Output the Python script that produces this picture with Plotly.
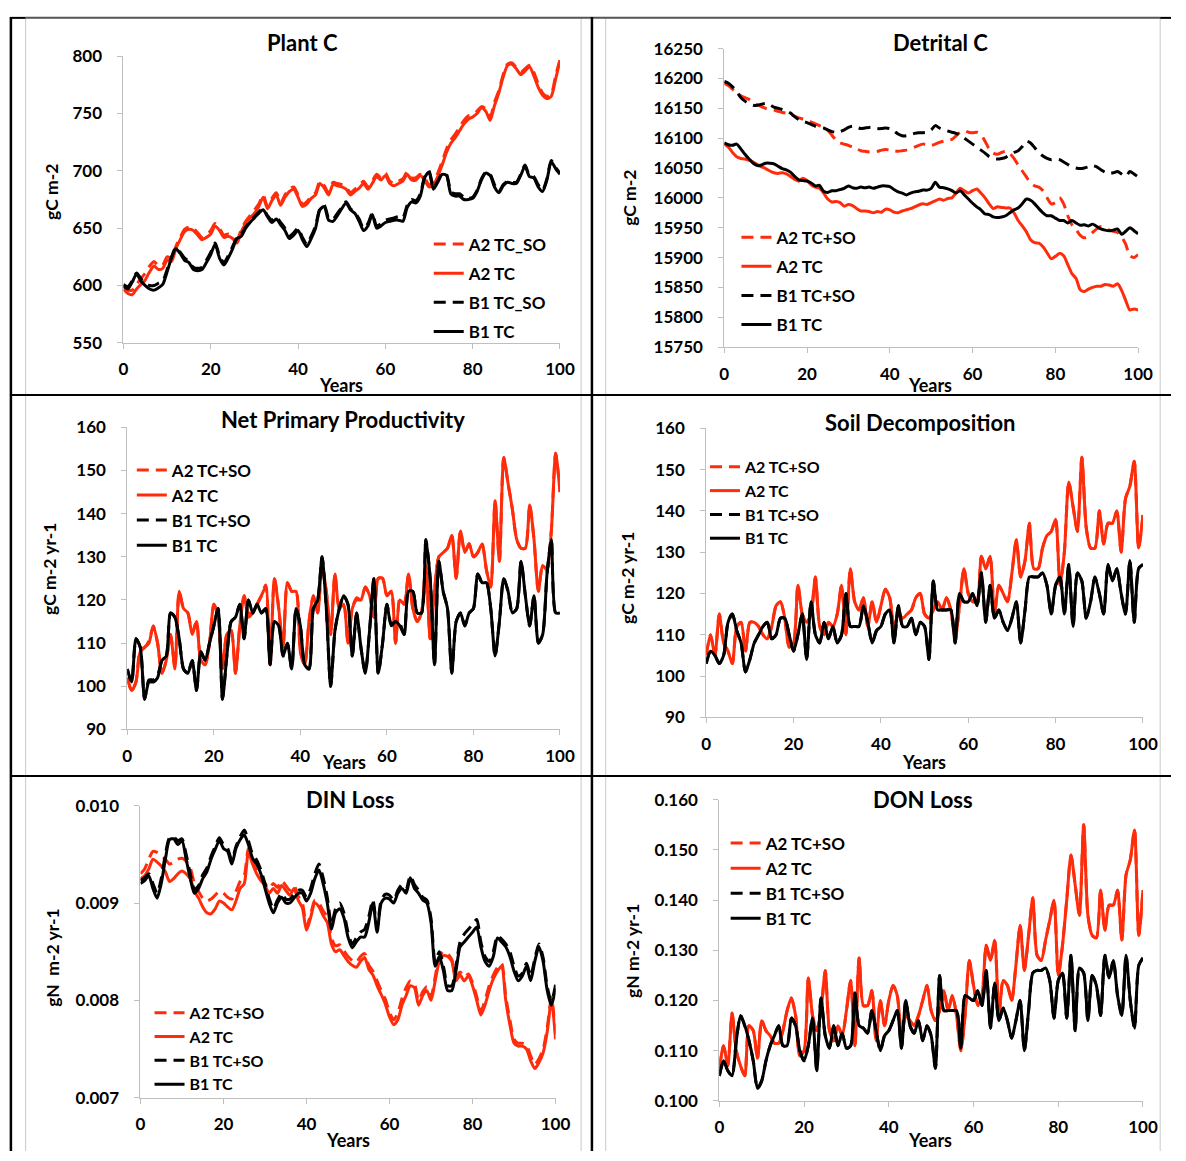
import plotly.graph_objects as go

W, H = 1186, 1161
years = list(range(101))

# ---------------- Plant C ----------------
plant_a2_tcso = [599,596,596,601,606,611,617,621,617,618,
                 625,624,634,642,649,651,650,646,642,644,
                 648,654,650,644,645,643,640,649,656,661,
                 666,671,679,669,676,681,672,679,684,686,
                 679,671,673,678,681,691,687,681,690,689,
                 688,686,681,684,687,691,686,691,697,694,
                 698,691,689,691,693,699,694,694,697,694,
                 688,690,698,708,719,727,732,738,744,748,
                 749,752,756,754,747,760,770,784,793,794,
                 790,786,789,792,786,776,768,765,767,783,
                 797]
plant_a2_tc = [597,593,592,597,601,605,612,617,614,615,
               622,621,632,640,647,649,648,644,640,642,
               645,652,648,642,643,641,637,647,654,659,
               663,669,677,667,674,679,670,677,682,684,
               677,669,671,676,679,689,685,679,688,687,
               686,684,679,682,685,689,684,689,695,692,
               696,689,687,689,691,697,692,692,696,692,
               686,688,695,705,716,724,729,735,741,745,
               747,750,755,752,744,757,768,782,792,793,
               789,784,787,791,783,773,766,763,765,780,
               796]
plant_b1_tcso = [601,599,604,611,606,602,600,600,602,604,
                 614,625,633,629,624,621,616,615,616,622,
                 629,637,626,620,626,634,642,645,651,656,
                 660,664,667,661,657,660,655,650,643,646,
                 650,642,636,643,652,667,670,659,658,663,
                 668,673,667,664,658,650,654,663,652,654,
                 657,658,659,660,659,670,675,674,680,695,
                 700,686,691,698,697,682,680,680,677,676,
                 677,683,693,699,697,688,682,688,691,690,
                 690,697,705,696,695,688,683,693,709,703,
                 698]
plant_b1_tc = [600,597,603,610,604,600,597,596,598,601,
               612,624,632,628,622,620,614,613,614,620,
               627,636,624,618,624,632,641,643,650,655,
               659,663,666,660,655,658,653,648,641,644,
               648,640,634,641,650,666,669,657,656,661,
               667,672,666,663,656,648,652,662,650,652,
               655,656,657,657,656,668,673,672,678,694,
               699,684,690,697,696,680,678,678,675,675,
               676,682,692,698,696,686,681,687,690,689,
               689,696,704,695,694,686,682,692,708,702,
               697]

# ---------------- Detrital C ----------------
det_a2_tcso = [16192,16188,16182,16176,16171,16168,16165,16160,16156,16153,
               16150,16148,16147,16145,16143,16142,16140,16137,16134,16132,
               16130,16127,16124,16121,16118,16113,16105,16097,16092,16090,
               16088,16085,16082,16079,16078,16077,16077,16078,16080,16081,
               16080,16079,16078,16079,16080,16082,16085,16088,16090,16089,
               16088,16090,16093,16095,16096,16098,16104,16110,16112,16110,
               16109,16110,16106,16095,16082,16075,16073,16076,16078,16074,
               16066,16055,16045,16035,16025,16020,16018,16012,16000,15990,
               15992,16000,15990,15970,15955,15947,15937,15933,15936,15942,
               15948,15952,15950,15946,15944,15942,15935,15922,15903,15900,
               15905]
det_a2_tc = [16090,16085,16076,16069,16066,16065,16063,16060,16056,16052,
             16049,16045,16042,16041,16042,16040,16036,16031,16028,16033,
             16029,16022,16018,16016,16008,15998,15993,15994,15992,15986,
             15989,15987,15982,15978,15978,15977,15975,15977,15976,15981,
             15980,15976,15975,15978,15980,15982,15985,15988,15990,15989,
             15992,15995,15998,15996,15999,16000,16008,16016,16012,16008,
             16012,16015,16008,16000,15990,15982,15985,15984,15983,15983,
             15975,15962,15953,15943,15930,15925,15924,15918,15908,15898,
             15902,15907,15903,15888,15873,15865,15846,15843,15847,15850,
             15852,15852,15855,15854,15852,15856,15845,15828,15812,15814,
             15812]
det_b1_tcso = [16195,16192,16186,16178,16168,16162,16158,16155,16155,16157,
               16158,16156,16152,16150,16148,16146,16142,16136,16131,16128,
               16126,16123,16120,16118,16117,16114,16111,16110,16111,16114,
               16118,16120,16118,16116,16117,16118,16118,16116,16116,16117,
               16116,16112,16107,16104,16104,16106,16108,16109,16109,16110,
               16114,16121,16117,16114,16112,16110,16108,16105,16100,16095,
               16090,16085,16080,16075,16069,16066,16065,16066,16068,16072,
               16076,16079,16086,16095,16092,16084,16076,16070,16066,16064,
               16065,16064,16060,16056,16052,16050,16049,16050,16052,16054,
               16052,16047,16043,16041,16042,16044,16040,16036,16044,16040,
               16035]
det_b1_tc = [16092,16089,16088,16090,16082,16073,16065,16058,16054,16055,
             16058,16058,16057,16053,16049,16047,16043,16036,16030,16029,
             16028,16025,16020,16021,16011,16009,16012,16012,16014,16016,
             16020,16017,16016,16018,16017,16018,16016,16018,16020,16020,
             16019,16014,16010,16008,16005,16008,16010,16011,16013,16013,
             16016,16026,16018,16017,16015,16012,16008,16012,16005,15998,
             15991,15985,15980,15973,15972,15968,15967,15968,15970,15975,
             15980,15983,15990,15998,15996,15990,15982,15975,15970,15970,
             15966,15962,15962,15958,15962,15958,15954,15955,15953,15956,
             15952,15948,15946,15945,15946,15948,15939,15944,15950,15945,
             15940]

# ---------------- Net Primary Productivity ----------------
npp_a2_tcso = [102,99,101,108.5,109,110.5,114,110,103,106,
               112,104.5,122,118,117,112.5,115,106,105,110,
               119,116,104,112,113,103,114,121,117,117,
               119,121,123.5,105,125,118,109,124,122,122,
               108,105,115,121,117,128,122,112,126,118,
               119,110,118,120.5,120,123,121,116,125,125,
               121,122,110,120.5,119,126,118,115,117,128,
               111,122,130,131,132,135,125,136,131,133,
               130,131,133,127,123,143,129,153,147,141,
               134,132,132,142,134,122,128,127,136,154,
               145]
npp_a2_tc = [102,99,101,108,109,110,114,110,103,106,
             112,104,122,118,117,112,115,106,105,110,
             119,116,104,112,113,103,114,121,116,117,
             119,121,123,105,125,118,109,124,122,122,
             108,105,115,121,117,128,122,112,126,118,
             119,110,118,120,120,123,121,116,125,125,
             121,122,110,120,119,126,118,115,117,128,
             111,122,130,131,132,135,125,136,131,133,
             130,131,133,127,123,143,129,153,147,141,
             134,132,132,142,134,122,128,127,136,154,
             145]
npp_b1_tcso = [104,101,111,109,97,101.5,101.5,102.5,106,107,
               117,116,111,104,103,106,99,108,106,110,
               114,118,97,107,115,116,119,111,120,117,
               119,117,118,105,115,114,107,110,104,118,
               114,105,104,118,120,130,118,100,113,118,
               121,119,107,117,109,103,113,125,103,110,
               119,114.5,115,114.5,112,122,122,117,117,134,
               125,105,129,122,118,103,115,117,114,117,
               118,126,124,124,118,107,115,125,122,117,
               118,129,121,114,121,110,112,126,134,117,
               117]
npp_b1_tc = [104,101,111,109,97,101,101,102,106,107,
             117,116,111,104,103,106,99,108,106,110,
             114,118,97,107,115,116,119,111,120,117,
             119,117,118,105,115,114,107,110,104,118,
             114,105,104,118,120,130,118,100,113,118,
             121,119,107,117,109,103,113,125,103,110,
             119,114,115,114,112,122,122,117,117,134,
             125,105,129,122,118,103,115,117,114,117,
             118,126,124,124,118,107,115,125,122,117,
             118,129,121,114,121,110,112,126,134,117,
             117]

# ---------------- Soil Decomposition ----------------
soil_a2_tcso = [105,110,105,115,108,106,103,112,113,106,
                113,113,112,110,109,112,117,118,114,107,
                108,122,115,113,115,124,112,110,113,112,
                115,122,110,126,118,116,119,112,118,113,
                117,121,119,112,115,114,115,116,119,120,
                115,114,116,118,116,119,116,109,117,126,
                120,118,118,129,126,129,115,122,120,118,
                125,133,124,128,137,126,126,131,134,135,
                138,122,130,147,141,135,153,136,131,131,
                140,132,137,137,140,130,143,146,152,131,
                139]
soil_a2_tc = [105,110,105,115,108,106,103,112,113,106,
              113,113,112,110,109,112,117,118,114,107,
              108,122,115,113,115,124,112,110,113,112,
              115,122,110,126,118,116,119,112,118,113,
              117,121,119,112,115,114,115,116,119,120,
              115,114,116,118,116,119,116,109,117,126,
              120,118,118,129,126,129,115,122,120,118,
              125,133,124,128,137,126,126,131,134,135,
              138,122,130,147,141,135,153,136,131,131,
              140,132,137,137,140,130,143,146,152,131,
              139]
soil_b1_tcso = [103,106,105,103,105,113,115,111,108,101,
                104,108,110,112,113,109,110,114,114,110,
                106,110,115,104,118,110,108,113,109,112,
                108,110,120,112,112,112,117,113,108,111,
                112,115,116,108,117,112,112,114,110,113,
                112,104,123,116,116,116,116,108,120,118,
                118,120,117,125,113,122,114,116,113,111,
                114,118,108,116,124,124,124,125,122,115,
                122,124,115,127,112,125,123,114,118,124,
                120,115,127,123,126,120,115,128,113,126,
                127]
soil_b1_tc = [103,106,105,103,105,113,115,111,108,101,
              104,108,110,112,113,109,110,114,114,110,
              106,110,115,104,118,110,108,113,109,112,
              108,110,120,112,112,112,117,113,108,111,
              112,115,116,108,117,112,112,114,110,113,
              112,104,123,116,116,116,116,108,120,118,
              118,120,117,125,113,122,114,116,113,111,
              114,118,108,116,124,124,124,125,122,115,
              122,124,115,127,112,125,123,114,118,124,
              120,115,127,123,126,120,115,128,113,126,
              127]

# ---------------- DIN Loss ----------------
din_a2_tcso = [0.00930,0.00935,0.00945,0.00953,0.00952,0.00949,0.00945,0.00940,0.00942,0.00945,
               0.00946,0.00943,0.00936,0.00920,0.00912,0.00905,0.00902,0.00904,0.00908,0.00912,
               0.00910,0.00906,0.00904,0.00912,0.00922,0.00928,0.00956,0.00943,0.00933,0.00926,
               0.00920,0.00915,0.00920,0.00916,0.00923,0.00918,0.00913,0.00918,0.00907,0.00900,
               0.00876,0.00888,0.00903,0.00900,0.00892,0.00886,0.00864,0.00856,0.00857,0.00851,
               0.00845,0.00841,0.00839,0.00845,0.00848,0.00836,0.00830,0.00820,0.00810,0.00801,
               0.00788,0.00780,0.00787,0.00802,0.00813,0.00820,0.00817,0.00800,0.00809,0.00814,
               0.00804,0.00824,0.00845,0.00850,0.00848,0.00842,0.00825,0.00829,0.00824,0.00827,
               0.00818,0.00804,0.00789,0.00800,0.00815,0.00826,0.00834,0.00838,0.00804,0.00780,
               0.00760,0.00756,0.00756,0.00754,0.00743,0.00734,0.00740,0.00750,0.00772,0.00803,
               0.00765]
din_a2_tc = [0.00925,0.00928,0.00935,0.00945,0.00942,0.00938,0.00932,0.00922,0.00925,0.00930,
             0.00933,0.00930,0.00925,0.00912,0.00905,0.00896,0.00890,0.00889,0.00894,0.00902,
             0.00900,0.00896,0.00893,0.00902,0.00915,0.00920,0.00952,0.00940,0.00930,0.00923,
             0.00918,0.00910,0.00915,0.00910,0.00918,0.00913,0.00908,0.00915,0.00903,0.00895,
             0.00872,0.00885,0.00900,0.00896,0.00887,0.00880,0.00858,0.00850,0.00852,0.00846,
             0.00840,0.00836,0.00834,0.00840,0.00844,0.00832,0.00826,0.00815,0.00806,0.00796,
             0.00783,0.00775,0.00780,0.00795,0.00805,0.00815,0.00813,0.00795,0.00805,0.00810,
             0.00800,0.00820,0.00840,0.00846,0.00845,0.00840,0.00820,0.00826,0.00820,0.00825,
             0.00815,0.00800,0.00785,0.00795,0.00810,0.00822,0.00830,0.00835,0.00800,0.00775,
             0.00756,0.00753,0.00753,0.00750,0.00738,0.00730,0.00736,0.00746,0.00768,0.00800,
             0.00760]
din_b1_tcso = [0.00923,0.00926,0.00930,0.00920,0.00910,0.00925,0.00950,0.00967,0.00968,0.00964,
               0.00966,0.00950,0.00930,0.00914,0.00918,0.00929,0.00936,0.00948,0.00958,0.00967,
               0.00960,0.00956,0.00944,0.00958,0.00968,0.00975,0.00964,0.00950,0.00944,0.00934,
               0.00920,0.00905,0.00894,0.00903,0.00910,0.00904,0.00904,0.00909,0.00913,0.00913,
               0.00906,0.00915,0.00930,0.00940,0.00926,0.00906,0.00878,0.00894,0.00900,0.00890,
               0.00870,0.00858,0.00864,0.00870,0.00873,0.00886,0.00903,0.00875,0.00903,0.00909,
               0.00908,0.00903,0.00913,0.00919,0.00914,0.00928,0.00919,0.00913,0.00906,0.00903,
               0.00884,0.00840,0.00850,0.00835,0.00815,0.00815,0.00835,0.00860,0.00868,0.00873,
               0.00878,0.00883,0.00860,0.00845,0.00840,0.00850,0.00866,0.00863,0.00858,0.00850,
               0.00835,0.00825,0.00828,0.00838,0.00825,0.00843,0.00858,0.00844,0.00814,0.00799,
               0.00816]
din_b1_tc = [0.00920,0.00923,0.00928,0.00915,0.00905,0.00920,0.00945,0.00965,0.00966,0.00960,
             0.00964,0.00945,0.00925,0.00910,0.00915,0.00925,0.00932,0.00945,0.00955,0.00964,
             0.00956,0.00953,0.00940,0.00956,0.00965,0.00970,0.00960,0.00946,0.00940,0.00930,
             0.00915,0.00900,0.00890,0.00900,0.00906,0.00900,0.00900,0.00905,0.00910,0.00910,
             0.00902,0.00910,0.00925,0.00934,0.00920,0.00900,0.00873,0.00890,0.00894,0.00885,
             0.00865,0.00854,0.00860,0.00865,0.00865,0.00880,0.00900,0.00870,0.00900,0.00905,
             0.00904,0.00900,0.00910,0.00915,0.00910,0.00926,0.00915,0.00910,0.00903,0.00900,
             0.00880,0.00835,0.00845,0.00830,0.00810,0.00810,0.00830,0.00855,0.00860,0.00865,
             0.00870,0.00875,0.00855,0.00840,0.00835,0.00845,0.00864,0.00860,0.00855,0.00845,
             0.00830,0.00820,0.00825,0.00835,0.00820,0.00840,0.00855,0.00840,0.00810,0.00795,
             0.00812]

# ---------------- DON Loss ----------------
don_a2_tcso = [0.1065,0.1110,0.1070,0.1175,0.1100,0.1070,0.1050,0.1150,0.1140,0.1085,
               0.1160,0.1140,0.1130,0.1115,0.1115,0.1140,0.1180,0.1205,0.1170,0.1090,
               0.1100,0.1245,0.1170,0.1140,0.1180,0.1260,0.1140,0.1120,0.1150,0.1130,
               0.1180,0.1240,0.1110,0.1285,0.1190,0.1190,0.1220,0.1120,0.1200,0.1150,
               0.1200,0.1230,0.1210,0.1130,0.1170,0.1160,0.1150,0.1170,0.1200,0.1230,
               0.1180,0.1160,0.1180,0.1220,0.1180,0.1210,0.1170,0.1100,0.1170,0.1280,
               0.1230,0.1190,0.1210,0.1310,0.1280,0.1320,0.1170,0.1240,0.1230,0.1200,
               0.1270,0.1350,0.1260,0.1330,0.1405,0.1290,0.1280,0.1320,0.1360,0.1400,
               0.1250,0.1310,0.1400,0.1490,0.1430,0.1370,0.1550,0.1370,0.1330,0.1325,
               0.1420,0.1340,0.1390,0.1390,0.1420,0.1320,0.1450,0.1480,0.1540,0.1330,
               0.1420]
don_a2_tc = [0.1065,0.1110,0.1070,0.1175,0.1100,0.1070,0.1050,0.1150,0.1140,0.1085,
             0.1160,0.1140,0.1130,0.1115,0.1115,0.1140,0.1180,0.1205,0.1170,0.1090,
             0.1100,0.1245,0.1170,0.1140,0.1180,0.1260,0.1140,0.1120,0.1150,0.1130,
             0.1180,0.1240,0.1110,0.1285,0.1190,0.1190,0.1220,0.1120,0.1200,0.1150,
             0.1200,0.1230,0.1210,0.1130,0.1170,0.1160,0.1150,0.1170,0.1200,0.1230,
             0.1180,0.1160,0.1180,0.1220,0.1180,0.1210,0.1170,0.1100,0.1170,0.1280,
             0.1230,0.1190,0.1210,0.1310,0.1280,0.1320,0.1170,0.1240,0.1230,0.1200,
             0.1270,0.1350,0.1260,0.1330,0.1405,0.1290,0.1280,0.1320,0.1360,0.1400,
             0.1250,0.1310,0.1400,0.1490,0.1430,0.1370,0.1550,0.1370,0.1330,0.1325,
             0.1420,0.1340,0.1390,0.1390,0.1420,0.1320,0.1450,0.1480,0.1540,0.1330,
             0.1420]
don_b1_tcso = [0.1050,0.1080,0.1060,0.1050,0.1120,0.1170,0.1150,0.1120,0.1080,0.1025,
               0.1040,0.1080,0.1110,0.1130,0.1150,0.1110,0.1110,0.1165,0.1150,0.1100,
               0.1080,0.1110,0.1165,0.1060,0.1205,0.1130,0.1105,0.1150,0.1110,0.1135,
               0.1105,0.1110,0.1215,0.1150,0.1145,0.1135,0.1180,0.1140,0.1100,0.1130,
               0.1140,0.1160,0.1180,0.1105,0.1200,0.1150,0.1135,0.1160,0.1120,0.1150,
               0.1130,0.1065,0.1250,0.1180,0.1180,0.1180,0.1180,0.1105,0.1210,0.1205,
               0.1200,0.1220,0.1190,0.1260,0.1145,0.1235,0.1160,0.1185,0.1160,0.1125,
               0.1160,0.1200,0.1100,0.1180,0.1255,0.1260,0.1260,0.1265,0.1240,0.1165,
               0.1240,0.1255,0.1165,0.1290,0.1140,0.1265,0.1255,0.1160,0.1250,0.1230,
               0.1170,0.1290,0.1245,0.1280,0.1210,0.1170,0.1290,0.1200,0.1145,0.1270,
               0.1285]
don_b1_tc = [0.1050,0.1080,0.1060,0.1050,0.1120,0.1170,0.1150,0.1120,0.1080,0.1025,
             0.1040,0.1080,0.1110,0.1130,0.1150,0.1110,0.1110,0.1165,0.1150,0.1100,
             0.1080,0.1110,0.1165,0.1060,0.1205,0.1130,0.1105,0.1150,0.1110,0.1135,
             0.1105,0.1110,0.1215,0.1150,0.1145,0.1135,0.1180,0.1140,0.1100,0.1130,
             0.1140,0.1160,0.1180,0.1105,0.1200,0.1150,0.1135,0.1160,0.1120,0.1150,
             0.1130,0.1065,0.1250,0.1180,0.1180,0.1180,0.1180,0.1105,0.1210,0.1205,
             0.1200,0.1220,0.1190,0.1260,0.1145,0.1235,0.1160,0.1185,0.1160,0.1125,
             0.1160,0.1200,0.1100,0.1180,0.1255,0.1260,0.1260,0.1265,0.1240,0.1165,
             0.1240,0.1255,0.1165,0.1290,0.1140,0.1265,0.1255,0.1160,0.1250,0.1230,
             0.1170,0.1290,0.1245,0.1280,0.1210,0.1170,0.1290,0.1200,0.1145,0.1270,
             0.1285]

names_plant = ["A2 TC_SO", "A2 TC", "B1 TC_SO", "B1 TC"]
names_std = ["A2 TC+SO", "A2 TC", "B1 TC+SO", "B1 TC"]

RED = "#FF2C0C"
BLACK = "#000000"
AXGRAY = "#BFBFBF"
FONT = "Lato"
DASH = "12px,7px"


def fx(p):
    return p / W


def fy(p):
    return 1 - p / H


panels = [
    dict(title="Plant C", title_xy=(303, 32), ytitle="gC m-2", ytitle_xy=(47, 184),
         years_xy=(342, 381), series=[plant_a2_tcso, plant_a2_tc, plant_b1_tcso, plant_b1_tc],
         names=names_plant, xpx=(120.5, 564.5), ypx=(46, 338), yr=(550, 800), dt=50, fmt="d",
         leg=(431, 219.5, 17, 4)),
    dict(title="Detrital C", title_xy=(952, 32), ytitle="gC m-2", ytitle_xy=(635, 190),
         years_xy=(941, 381), series=[det_a2_tcso, det_a2_tc, det_b1_tcso, det_b1_tc],
         names=names_std, xpx=(731.6, 1152.6), ypx=(38.3, 342.3), yr=(15750, 16250), dt=50, fmt="d",
         leg=(744, 212.5, 17, 4)),
    dict(title="Net Primary Productivity", title_xy=(344, 416), ytitle="gC m-2 yr-1", ytitle_xy=(46, 568),
         years_xy=(345, 765), series=[npp_a2_tcso, npp_a2_tc, npp_b1_tcso, npp_b1_tc],
         names=names_std, xpx=(124.4, 564.5), ypx=(424, 731.7), yr=(90, 160), dt=10, fmt="d",
         leg=(129, 449.5, 17, 0)),
    dict(title="Soil Decomposition", title_xy=(931, 419), ytitle="gC m-2 yr-1", ytitle_xy=(633, 577),
         years_xy=(935, 765), series=[soil_a2_tcso, soil_a2_tc, soil_b1_tcso, soil_b1_tc],
         names=names_std, xpx=(713.2, 1157.5), ypx=(425, 719.3), yr=(90, 160), dt=10, fmt="d",
         leg=(712, 447, 16, 0)),
    dict(title="DIN Loss", title_xy=(351, 803), ytitle="gN  m-2 yr-1", ytitle_xy=(48, 964),
         years_xy=(349, 1150), series=[din_a2_tcso, din_a2_tc, din_b1_tcso, din_b1_tc],
         names=names_std, xpx=(137.8, 560), ypx=(809.3, 1106.7), yr=(0.007, 0.010), dt=0.001, fmt=".3f",
         leg=(147, 1003, 16, 0)),
    dict(title="DON Loss", title_xy=(934, 803), ytitle="gN m-2 yr-1", ytitle_xy=(638, 957),
         years_xy=(941, 1150), series=[don_a2_tcso, don_a2_tc, don_b1_tcso, don_b1_tc],
         names=names_std, xpx=(726.6, 1157.5), ypx=(803.3, 1110), yr=(0.100, 0.160), dt=0.010, fmt=".3f",
         leg=(733, 829.5, 17, 0)),
]

styles = [(RED, DASH), (RED, "solid"), (BLACK, DASH), (BLACK, "solid")]

fig = go.Figure()
annotations = []
layout_updates = {}

for i, p in enumerate(panels, start=1):
    sfx = "" if i == 1 else str(i)
    xa, ya, lg = "x" + sfx, "y" + sfx, "legend" + sfx
    for j, (vals, name) in enumerate(zip(p["series"], p["names"])):
        assert len(vals) == 101, (p["title"], j, len(vals))
        col, dash = styles[j]
        fig.add_trace(go.Scatter(
            x=years, y=vals, name=name, mode="lines",
            line=dict(color=col, width=3, dash=dash, shape="spline", smoothing=0.7),
            xaxis=xa, yaxis=ya, legend=lg, legendgroup=f"p{i}s{j}",
            hoverinfo="skip"))
    tickfont = dict(family=FONT, size=17, color="black", weight="bold")
    layout_updates["xaxis" + sfx] = dict(
        domain=[fx(p["xpx"][0]), fx(p["xpx"][1])], range=[0, 100], tick0=0, dtick=20,
        showline=True, linecolor=AXGRAY, linewidth=1, ticks="outside", ticklen=5,
        tickcolor=AXGRAY, showgrid=False, zeroline=False, tickfont=tickfont,
        anchor=ya, ticklabelstandoff=6, fixedrange=True)
    layout_updates["yaxis" + sfx] = dict(
        domain=[fy(p["ypx"][1]), fy(p["ypx"][0])], range=list(p["yr"]), tick0=p["yr"][0],
        dtick=p["dt"], tickformat=p["fmt"],
        showline=True, linecolor=AXGRAY, linewidth=1, ticks="outside", ticklen=5,
        tickcolor=AXGRAY, showgrid=False, zeroline=False, tickfont=tickfont,
        anchor=xa, ticklabelstandoff=12, fixedrange=True)
    lx, ly, lfs, lgap = p["leg"]
    layout_updates[lg] = dict(
        x=fx(lx), y=fy(ly), xanchor="left", yanchor="top", bgcolor="rgba(0,0,0,0)",
        borderwidth=0, font=dict(family=FONT, size=lfs, color="black", weight="bold"),
        tracegroupgap=lgap, traceorder="grouped", itemwidth=30)
    annotations.append(dict(
        text=p["title"], x=fx(p["title_xy"][0]), y=fy(p["title_xy"][1]), xref="paper", yref="paper",
        xanchor="center", yanchor="middle", showarrow=False,
        font=dict(family=FONT, size=22, color="black", weight="bold")))
    annotations.append(dict(
        text="Years", x=fx(p["years_xy"][0]), y=fy(p["years_xy"][1]), xref="paper", yref="paper",
        xanchor="center", yanchor="middle", showarrow=False,
        font=dict(family=FONT, size=18, color="black", weight="bold")))
    annotations.append(dict(
        text=p["ytitle"], x=fx(p["ytitle_xy"][0]), y=fy(p["ytitle_xy"][1]), xref="paper", yref="paper",
        xanchor="center", yanchor="middle", showarrow=False, textangle=-90,
        font=dict(family=FONT, size=17.5, color="black", weight="bold")))

shapes = []


def hline(y, x0, x1, color, width):
    shapes.append(dict(type="line", xref="paper", yref="paper", x0=fx(x0), x1=fx(x1),
                       y0=fy(y), y1=fy(y), line=dict(color=color, width=width)))


def vline(x, y0, y1, color, width):
    shapes.append(dict(type="line", xref="paper", yref="paper", x0=fx(x), x1=fx(x),
                       y0=fy(y0), y1=fy(y1), line=dict(color=color, width=width)))


# chart-area borders (light gray)
for gx in (21, 586, 611, 1175):
    vline(gx, 7, 1161, "#C8C8C8", 1)
# table rules (black)
hline(7, 5, 21, "black", 2)
hline(7, 21, 1175, "#555555", 2)
hline(7, 1175, 1186, "black", 2)
hline(391, 5, 1186, "black", 2)
hline(779, 5, 1186, "black", 2)
vline(6, 6, 1161, "black", 2.5)
vline(597, 6, 1161, "black", 2.5)

fig.update_layout(
    width=W, height=H, autosize=False,
    margin=dict(l=0, r=0, t=0, b=0),
    paper_bgcolor="white", plot_bgcolor="white",
    font=dict(family=FONT, color="black"),
    annotations=annotations, shapes=shapes,
    **layout_updates)

post = (
    "document.body.style.margin='0';"
    "document.body.style.overflow='hidden';"
)
fig.write_html("out.html", config={"displayModeBar": False}, post_script=post)
